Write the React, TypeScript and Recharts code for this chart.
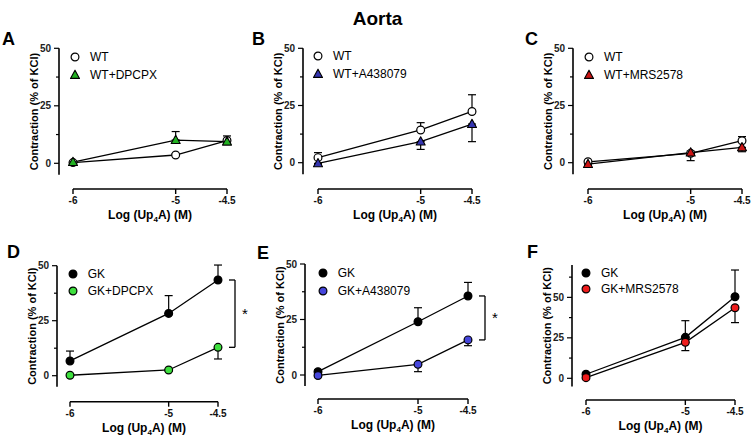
import React from "react";
import { LineChart, Line, XAxis, YAxis, ErrorBar, ReferenceLine, Legend } from "recharts";

const FONT = '"Liberation Sans", Arial, Helvetica, sans-serif';

// doses (log M) and axis ticks
const doses = [-6, -5, -4.5];
const doseTicks = [-6, -5, -4.5];
const yTicks50 = [0, 12.5, 25, 37.5, 50];
const yTicks70 = [0, 12.5, 25, 37.5, 50, 62.5];

// A: WT vs WT+DPCPX
const wtA = [0.3, 3.6, 9.9];
const wtAErr = [0.3, 0.6, 2.0];
const dpcpxA = [0.5, 10.1, 9.4];
const dpcpxAErr = [0.4, 3.7, 1.0];
// B: WT vs WT+A438079
const wtB = [2.2, 14.3, 22.4];
const wtBErr = [2.2, 3.2, 7.3];
const a438B = [-0.3, 9.2, 16.9];
const a438BErr = [0.4, 3.4, 7.7];
// C: WT vs WT+MRS2578
const wtC = [0.4, 4.1, 9.6];
const wtCErr = [0.5, 1.0, 1.8];
const mrsC = [-0.6, 4.4, 6.7];
const mrsCErr = [0.4, 3.5, 1.9];
// D: GK vs GK+DPCPX
const gkD = [6.7, 28.3, 43.5];
const gkDErr = [4.5, 8.1, 6.8];
const dpcpxD = [0.2, 2.6, 12.9];
const dpcpxDErr = [0.3, 0.5, 5.3];
// E: GK vs GK+A438079
const gkE = [1.5, 24.0, 35.6];
const gkEErr = [0.8, 6.3, 6.1];
const a438E = [-0.2, 4.8, 15.8];
const a438EErr = [0.4, 3.3, 2.6];
// F: GK vs GK+MRS2578
const gkF = [2.5, 25.3, 50.4];
const gkFErr = [1.0, 10.3, 16.5];
const mrsF = [0.4, 22.2, 43.6];
const mrsFErr = [0.5, 5.1, 9.2];

type Shape = "circle" | "triangle";
type Series = { name: string; values: number[]; err: number[]; dir: "up" | "down"; shape: Shape; fill: string };
type Layout = {
  left: number; top: number; w: number; h: number;
  yAxisX: number; x0: number; x1: number;
  topPx: number; topVal: number; zeroPx: number; axisPx: number;
  legX: number; legY: number; legGap: number;
};
type PanelCfg = { letter: string; lx: number; ly: number; a: Series; b: Series; ticks: number[]; star: boolean; layout: Layout };

const panels: PanelCfg[] = [
  {
    letter: "A", lx: 2, ly: 45, ticks: yTicks50, star: false,
    a: { name: "WT", values: wtA, err: wtAErr, dir: "up", shape: "circle", fill: "#fff" },
    b: { name: "WT+DPCPX", values: dpcpxA, err: dpcpxAErr, dir: "up", shape: "triangle", fill: "#22b022" },
    layout: { left: 0, top: 30, w: 250, h: 195, yAxisX: 59, x0: 73, x1: 227, topPx: 48.3, topVal: 50, zeroPx: 163.3, axisPx: 189, legX: 75, legY: 57, legGap: 18 },
  },
  {
    letter: "B", lx: 252, ly: 45, ticks: yTicks50, star: false,
    a: { name: "WT", values: wtB, err: wtBErr, dir: "up", shape: "circle", fill: "#fff" },
    b: { name: "WT+A438079", values: a438B, err: a438BErr, dir: "down", shape: "triangle", fill: "#3535b0" },
    layout: { left: 250, top: 30, w: 250, h: 195, yAxisX: 303, x0: 318, x1: 472, topPx: 48.3, topVal: 50, zeroPx: 162.7, axisPx: 189, legX: 318, legY: 56, legGap: 18 },
  },
  {
    letter: "C", lx: 525, ly: 45, ticks: yTicks50, star: false,
    a: { name: "WT", values: wtC, err: wtCErr, dir: "up", shape: "circle", fill: "#fff" },
    b: { name: "WT+MRS2578", values: mrsC, err: mrsCErr, dir: "down", shape: "triangle", fill: "#cc1414" },
    layout: { left: 500, top: 30, w: 255, h: 195, yAxisX: 573, x0: 588, x1: 742, topPx: 48.3, topVal: 50, zeroPx: 162.7, axisPx: 189, legX: 589, legY: 56.5, legGap: 18 },
  },
  {
    letter: "D", lx: 7, ly: 258, ticks: yTicks50, star: true,
    a: { name: "GK", values: gkD, err: gkDErr, dir: "up", shape: "circle", fill: "#000" },
    b: { name: "GK+DPCPX", values: dpcpxD, err: dpcpxDErr, dir: "down", shape: "circle", fill: "#3ee03e" },
    layout: { left: 0, top: 225, w: 250, h: 219, yAxisX: 57, x0: 70, x1: 218, topPx: 265.7, topVal: 50, zeroPx: 375.7, axisPx: 401.7, legX: 72.7, legY: 274, legGap: 17 },
  },
  {
    letter: "E", lx: 257, ly: 259, ticks: yTicks50, star: true,
    a: { name: "GK", values: gkE, err: gkEErr, dir: "up", shape: "circle", fill: "#000" },
    b: { name: "GK+A438079", values: a438E, err: a438EErr, dir: "down", shape: "circle", fill: "#4646dc" },
    layout: { left: 250, top: 225, w: 250, h: 219, yAxisX: 305, x0: 318, x1: 468, topPx: 264, topVal: 50, zeroPx: 375, axisPx: 399, legX: 322.7, legY: 273, legGap: 17.5 },
  },
  {
    letter: "F", lx: 527, ly: 258, ticks: yTicks70, star: false,
    a: { name: "GK", values: gkF, err: gkFErr, dir: "up", shape: "circle", fill: "#000" },
    b: { name: "GK+MRS2578", values: mrsF, err: mrsFErr, dir: "down", shape: "circle", fill: "#ee1c1c" },
    layout: { left: 500, top: 225, w: 255, h: 219, yAxisX: 572, x0: 586, x1: 735, topPx: 265, topVal: 70, zeroPx: 378.3, axisPx: 400, legX: 586, legY: 273.3, legGap: 15.5 },
  },
];

function Marker({ cx, cy, shape, fill }: { cx: number; cy: number; shape: Shape; fill: string }) {
  if (shape === "triangle") {
    return (
      <polygon
        points={`${cx},${cy - 4.8} ${cx - 4.5},${cy + 3.4} ${cx + 4.5},${cy + 3.4}`}
        fill={fill}
        stroke="#000"
        strokeWidth={1.1}
        strokeLinejoin="round"
      />
    );
  }
  return <circle cx={cx} cy={cy} r={3.9} fill={fill} stroke="#000" strokeWidth={1.2} />;
}

function YTick(props: any) {
  const { x, y, payload } = props;
  const major = payload.value % 25 === 0;
  return (
    <g>
      <line x1={x} x2={x - (major ? 5 : 3)} y1={y} y2={y} stroke="#000" strokeWidth={1.2} />
      {major && (
        <text x={x - 8} y={y} dy="0.35em" textAnchor="end" fontSize={10} fontWeight="bold" fontFamily={FONT} fill="#222">
          {payload.value}
        </text>
      )}
    </g>
  );
}

function YTitle({ cx, cy }: { cx: number; cy: number }) {
  return (
    <text
      x={cx}
      y={cy}
      transform={`rotate(-90 ${cx} ${cy})`}
      textAnchor="middle"
      dominantBaseline="central"
      fontSize={11}
      fontWeight="bold"
      fontFamily={FONT}
      fill="#000"
    >
      Contraction (% of KCl)
    </text>
  );
}

function XTitle({ cx, cy }: { cx: number; cy: number }) {
  return (
    <text x={cx} y={cy} textAnchor="middle" fontSize={12} fontWeight="bold" fontFamily={FONT} fill="#000">
      <tspan>Log (Up</tspan>
      <tspan fontSize={8} dy={3}>4</tspan>
      <tspan dy={-3}>A) (M)</tspan>
    </text>
  );
}

function StarLabel(props: any) {
  const vb = props.viewBox || { x: 0, y: 0, width: 0, height: 0 };
  return (
    <text
      x={vb.x + (vb.width || 0) + 7}
      y={vb.y + (vb.height || 0) / 2 + 5}
      fontSize={15}
      fontFamily={FONT}
      fill="#000"
      stroke="none"
    >
      *
    </text>
  );
}

function LegendBox({ items, gap }: { items: Series[]; gap: number }) {
  return (
    <div style={{ fontFamily: FONT, fontSize: 12, color: "#000" }}>
      {items.map((s) => (
        <div key={s.name} style={{ display: "flex", alignItems: "center", height: gap }}>
          <svg width={10} height={10} style={{ overflow: "visible" }}>
            <Marker cx={5} cy={5} shape={s.shape} fill={s.fill} />
          </svg>
          <span style={{ marginLeft: 10 }}>{s.name}</span>
        </div>
      ))}
    </div>
  );
}

const errPair = (s: Series, i: number) => (s.dir === "up" ? [0, s.err[i]] : [s.err[i], 0]);

function Panel({ cfg }: { cfg: PanelCfg }) {
  const L = cfg.layout;
  const pxX = (L.x1 - L.x0) / 1.5;
  const pxY = (L.zeroPx - L.topPx) / L.topVal;
  const plotRight = L.x1 + (cfg.star ? 40 : 8);
  const plotTop = L.topPx - 8;
  const xmin = -6 - (L.x0 - L.yAxisX) / pxX;
  const xmax = -4.5 + (plotRight - L.x1) / pxX;
  const ymax = L.topVal + 8 / pxY;
  const ymin = -(L.axisPx - L.zeroPx) / pxY;

  const rows = doses.map((x, i) => ({
    x,
    a: cfg.a.values[i],
    aErr: errPair(cfg.a, i),
    b: cfg.b.values[i],
    bErr: errPair(cfg.b, i),
  }));

  const last = doses.length - 1;
  const bx = -4.5 + 17 / pxX;
  const bxTick = -4.5 + 11 / pxX;
  const hi = cfg.a.values[last];
  const lo = cfg.b.values[last];

  const yLineBottomPx = L.zeroPx + 5 * pxY;
  const yTitle = { cx: L.yAxisX - 25 - L.left, cy: (L.topPx + yLineBottomPx) / 2 - L.top };
  const xTitle = { cx: (L.x0 + L.x1) / 2 - L.left, cy: L.axisPx + 30 - L.top };

  return (
    <div style={{ position: "absolute", left: L.left, top: L.top }}>
      <LineChart
        width={L.w}
        height={L.h}
        data={rows}
        margin={{ top: plotTop - L.top, right: L.left + L.w - plotRight, bottom: 0, left: 0 }}
      >
        <XAxis
          type="number"
          dataKey="x"
          domain={[xmin, xmax]}
          ticks={doseTicks}
          interval={0}
          axisLine={false}
          tickLine={{ stroke: "#000", strokeWidth: 1.4 }}
          tickSize={5}
          tickMargin={3}
          height={L.top + L.h - L.axisPx}
          tick={{ fill: "#111", fontSize: 10, fontWeight: "bold", fontFamily: FONT }}
          label={<XTitle cx={xTitle.cx} cy={xTitle.cy} />}
        />
        <YAxis
          type="number"
          domain={[ymin, ymax]}
          ticks={cfg.ticks}
          interval={0}
          axisLine={false}
          tickLine={false}
          tickSize={0}
          tickMargin={0}
          width={L.yAxisX - L.left}
          tick={<YTick />}
          label={<YTitle cx={yTitle.cx} cy={yTitle.cy} />}
        />
        <ReferenceLine
          ifOverflow="visible"
          segment={[{ x: -6, y: ymin }, { x: -4.5, y: ymin }]}
          stroke="#000"
          strokeWidth={1.6}
        />
        <ReferenceLine
          ifOverflow="visible"
          segment={[{ x: xmin, y: -5 }, { x: xmin, y: L.topVal }]}
          stroke="#000"
          strokeWidth={1.6}
        />
        {cfg.star && (
          <ReferenceLine
            ifOverflow="visible"
            segment={[{ x: bx, y: hi }, { x: bx, y: lo }]}
            stroke="#000"
            strokeWidth={1.3}
            label={<StarLabel />}
          />
        )}
        {cfg.star && (
          <ReferenceLine ifOverflow="visible" segment={[{ x: bxTick, y: hi }, { x: bx, y: hi }]} stroke="#000" strokeWidth={1.3} />
        )}
        {cfg.star && (
          <ReferenceLine ifOverflow="visible" segment={[{ x: bxTick, y: lo }, { x: bx, y: lo }]} stroke="#000" strokeWidth={1.3} />
        )}
        <Line
          type="linear"
          dataKey="a"
          name={cfg.a.name}
          stroke="#000"
          strokeWidth={1.3}
          isAnimationActive={false}
          dot={(p: any) => <Marker key={`a${p.index}`} cx={p.cx} cy={p.cy} shape={cfg.a.shape} fill={cfg.a.fill} />}
          activeDot={false}
        >
          <ErrorBar dataKey="aErr" direction="y" width={4} stroke="#000" strokeWidth={1.2} isAnimationActive={false} />
        </Line>
        <Line
          type="linear"
          dataKey="b"
          name={cfg.b.name}
          stroke="#000"
          strokeWidth={1.3}
          isAnimationActive={false}
          dot={(p: any) => <Marker key={`b${p.index}`} cx={p.cx} cy={p.cy} shape={cfg.b.shape} fill={cfg.b.fill} />}
          activeDot={false}
        >
          <ErrorBar dataKey="bErr" direction="y" width={4} stroke="#000" strokeWidth={1.2} isAnimationActive={false} />
        </Line>
        <Legend
          layout="vertical"
          align="center"
          verticalAlign="middle"
          wrapperStyle={{ left: L.legX - L.left - 5, top: L.legY - L.top - L.legGap / 2, width: 130 }}
          content={() => <LegendBox items={[cfg.a, cfg.b]} gap={L.legGap} />}
        />
      </LineChart>
    </div>
  );
}

export default function App() {
  return (
    <div style={{ position: "absolute", left: 0, top: 0, width: 755, height: 444, background: "#fff", overflow: "hidden" }}>
      <svg width={755} height={444} style={{ position: "absolute", left: 0, top: 0 }}>
        <text x={377.5} y={25} textAnchor="middle" fontSize={19} fontWeight="bold" fontFamily={FONT} fill="#000">
          Aorta
        </text>
        {panels.map((p) => (
          <text key={p.letter} x={p.lx} y={p.ly} fontSize={18} fontWeight="bold" fontFamily={FONT} fill="#000">
            {p.letter}
          </text>
        ))}
      </svg>
      {panels.map((p) => (
        <Panel key={p.letter} cfg={p} />
      ))}
    </div>
  );
}
